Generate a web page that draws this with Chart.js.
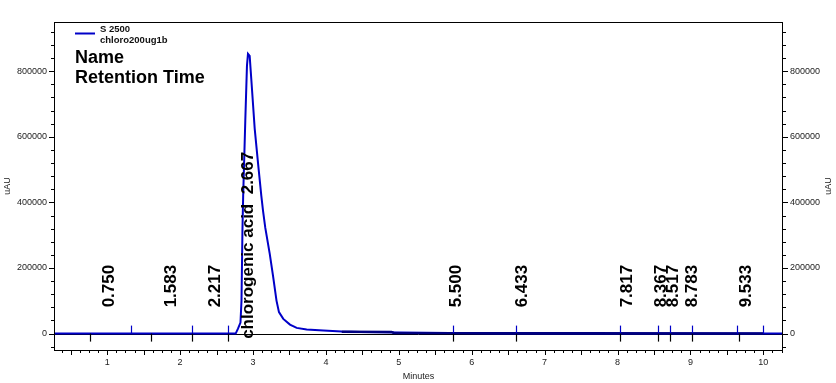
<!DOCTYPE html>
<html><head><meta charset="utf-8">
<script src="https://cdn.jsdelivr.net/npm/chart.js@4.4.1/dist/chart.umd.min.js"></script>
<style>html,body{margin:0;padding:0;background:#fff;overflow:hidden;}#wrap{width:836px;height:383px;position:relative;}canvas{display:block;}</style>
</head><body><div id="wrap"><canvas id="c" width="836" height="383" style="width:836px;height:383px"></canvas></div>
<script>
// ---- data (minutes / uAU) ----
const traceTime   = [0.27, 2.762, 2.794, 2.828, 2.842, 2.855, 2.865, 2.894, 2.917, 2.931, 2.954, 2.976, 3.023, 3.068, 3.114, 3.137, 3.168, 3.229, 3.274, 3.322, 3.356, 3.415, 3.507, 3.599, 3.736, 3.964, 4.217, 4.468, 5.016, 5.70, 6.39, 10.27];
const traceSignal = [0, 0, 15000, 33500, 100000, 314000, 420000, 649000, 817000, 853000, 847000, 777000, 625000, 521000, 420000, 375000, 323000, 244000, 177000, 100600, 65500, 44800, 27400, 17400, 12200, 9100, 6100, 4500, 3000, 1500, 600, 0];
const baselineTime   = [4.217, 4.90, 4.93, 10.0];
const baselineSignal = [6000, 5000, 2000, 500];
const peakTimes  = [0.764, 1.601, 2.159, 2.661, 5.747, 6.614, 8.038, 8.549, 8.724, 9.015, 9.671];
const eventTimes = [1.330, 2.159, 2.661, 5.747, 6.614, 8.038, 8.549, 8.724, 9.015, 9.643, 9.999];
const peakLabels = ['0.750', '1.583', '2.217', 'chlorogenic acid  2.667', '5.500', '6.433', '7.817', '8.367', '8.517', '8.783', '9.533'];
const labelTimes = [1.011, 1.861, 2.465, 2.917, 5.771, 6.676, 8.117, 8.583, 8.748, 9.009, 9.750];
const labelBase  = [80000, 80000, 80000, -16000, 80000, 80000, 80000, 80000, 80000, 80000, 80000];
const xTickValues = [1, 2, 3, 4, 5, 6, 7, 8, 9, 10];
const yTickValues = [0, 200000, 400000, 600000, 800000];
const seriesName = ['S 2500', 'chloro200ug1b'];
const headerLines = ['Name', 'Retention Time'];
const xTitle = 'Minutes';
const yTitle = 'uAU';

const toPts = (t, v) => t.map((x, i) => ({x: x, y: v[i]}));
const FONT = "'Liberation Sans', Arial, sans-serif";

const overlay = {
  id: 'overlay',
  beforeDatasetsDraw(chart) {
    const ctx = chart.ctx, ca = chart.chartArea, ys = chart.scales.y;
    const y0 = Math.round(ys.getPixelForValue(0)) + 0.5;
    ctx.save();
    ctx.strokeStyle = '#000'; ctx.lineWidth = 1;
    ctx.beginPath(); ctx.moveTo(ca.left, y0); ctx.lineTo(ca.right, y0); ctx.stroke();
    ctx.restore();
  },
  afterDatasetsDraw(chart) {
    const ctx = chart.ctx, ca = chart.chartArea, xs = chart.scales.x, ys = chart.scales.y;
    const y0 = ys.getPixelForValue(0);
    ctx.save();
    ctx.lineWidth = 1.2;
    ctx.strokeStyle = '#0000c8';
    eventTimes.forEach(t => {
      const px = Math.round(xs.getPixelForValue(t)) + 0.5;
      ctx.beginPath(); ctx.moveTo(px, y0); ctx.lineTo(px, y0 - 8); ctx.stroke();
    });
    ctx.strokeStyle = '#000';
    peakTimes.forEach(t => {
      const px = Math.round(xs.getPixelForValue(t)) + 0.5;
      ctx.beginPath(); ctx.moveTo(px, y0); ctx.lineTo(px, y0 + 8); ctx.stroke();
    });
    ctx.fillStyle = '#000';
    ctx.font = "bold 17px " + FONT;
    ctx.textAlign = 'left'; ctx.textBaseline = 'middle';
    peakLabels.forEach((s, i) => {
      const px = xs.getPixelForValue(labelTimes[i]);
      const py = ys.getPixelForValue(labelBase[i]);
      ctx.save(); ctx.translate(px, py); ctx.rotate(-Math.PI / 2);
      ctx.fillText(s, 0, 1); ctx.restore();
    });
    ctx.strokeStyle = '#000'; ctx.lineWidth = 1;
    ctx.strokeRect(Math.round(ca.left) + 0.5, Math.round(ca.top) + 0.5, Math.round(ca.right - ca.left) - 1, Math.round(ca.bottom - ca.top));
    ys.ticks.forEach(tk => {
      const v = tk.value;
      const major = yTickValues.includes(v);
      const len = major ? 5 : 3;
      const py = Math.round(ys.getPixelForValue(v)) + 0.5;
      ctx.beginPath();
      ctx.moveTo(ca.left - len, py); ctx.lineTo(ca.left, py);
      ctx.moveTo(ca.right, py); ctx.lineTo(ca.right + len, py);
      ctx.stroke();
    });
    xs.ticks.forEach(tk => {
      const v = tk.value;
      const half = Math.abs(v * 2 - Math.round(v * 2)) < 1e-6;
      const len = half ? 5 : 3;
      const px = Math.round(xs.getPixelForValue(v)) + 0.5;
      ctx.beginPath(); ctx.moveTo(px, ca.bottom); ctx.lineTo(px, ca.bottom + len); ctx.stroke();
    });
    ctx.fillStyle = '#222';
    ctx.font = "9px " + FONT;
    ctx.textAlign = 'center'; ctx.textBaseline = 'middle';
    const cy = (ca.top + ca.bottom) / 2;
    [[8, cy], [829, cy]].forEach(p => {
      ctx.save(); ctx.translate(p[0], p[1]); ctx.rotate(-Math.PI / 2);
      ctx.fillText(yTitle, 0, 0); ctx.restore();
    });
    ctx.fillText(xTitle, (ca.left + ca.right) / 2, 377);
    ctx.strokeStyle = '#0000c8'; ctx.lineWidth = 2;
    ctx.beginPath(); ctx.moveTo(75, 33.5); ctx.lineTo(95, 33.5); ctx.stroke();
    ctx.fillStyle = '#111';
    ctx.font = "bold 9.5px " + FONT;
    ctx.textAlign = 'left'; ctx.textBaseline = 'alphabetic';
    ctx.fillText(seriesName[0], 100, 32);
    ctx.fillText(seriesName[1], 100, 43);
    ctx.fillStyle = '#000';
    ctx.font = "bold 18px " + FONT;
    ctx.fillText(headerLines[0], 75, 63);
    ctx.fillText(headerLines[1], 75, 82.5);
    ctx.restore();
  }
};

const yTicksBuild = (scale) => {
  const arr = [];
  for (let v = -40000; v <= 920000; v += 40000) arr.push({value: v});
  scale.ticks = arr;
};

new Chart(document.getElementById('c'), {
  type: 'line',
  data: {
    datasets: [
      {data: toPts(baselineTime, baselineSignal), borderColor: '#000080', borderWidth: 2.5, pointRadius: 0, fill: false, tension: 0},
      {data: toPts(traceTime, traceSignal), borderColor: '#0000c8', borderWidth: 2, pointRadius: 0, fill: false, tension: 0}
    ]
  },
  options: {
    responsive: false,
    maintainAspectRatio: false,
    animation: false,
    devicePixelRatio: 1,
    layout: {padding: {top: 22, left: 0, right: 0, bottom: 0}},
    plugins: {legend: {display: false}, tooltip: {enabled: false}, title: {display: false}},
    scales: {
      x: {
        type: 'linear', position: 'bottom', min: 0.27, max: 10.27,
        grid: {display: false, drawTicks: false},
        border: {display: false},
        afterBuildTicks: (scale) => {
          const arr = [];
          for (let i = 3; i <= 82; i++) arr.push({value: i / 8});
          scale.ticks = arr;
        },
        afterFit: (scale) => { scale.height = 33; },
        ticks: {
          autoSkip: false, maxRotation: 0, minRotation: 0, padding: 7,
          color: '#222', font: {family: FONT, size: 9},
          callback: (v) => (xTickValues.includes(v) ? String(v) : '')
        }
      },
      y: {
        type: 'linear', position: 'left', min: -50000, max: 950000,
        grid: {display: false, drawTicks: false},
        border: {display: false},
        afterBuildTicks: yTicksBuild,
        afterFit: (scale) => { scale.width = 54; },
        ticks: {
          autoSkip: false, padding: 7, color: '#222', font: {family: FONT, size: 9},
          callback: (v) => (yTickValues.includes(v) ? String(v) : '')
        }
      },
      y2: {
        type: 'linear', position: 'right', min: -50000, max: 950000,
        grid: {display: false, drawTicks: false},
        border: {display: false},
        afterBuildTicks: yTicksBuild,
        afterFit: (scale) => { scale.width = 53; },
        ticks: {
          autoSkip: false, padding: 7, color: '#222', font: {family: FONT, size: 9},
          callback: (v) => (yTickValues.includes(v) ? String(v) : '')
        }
      }
    }
  },
  plugins: [overlay]
});
</script>
</body></html>
